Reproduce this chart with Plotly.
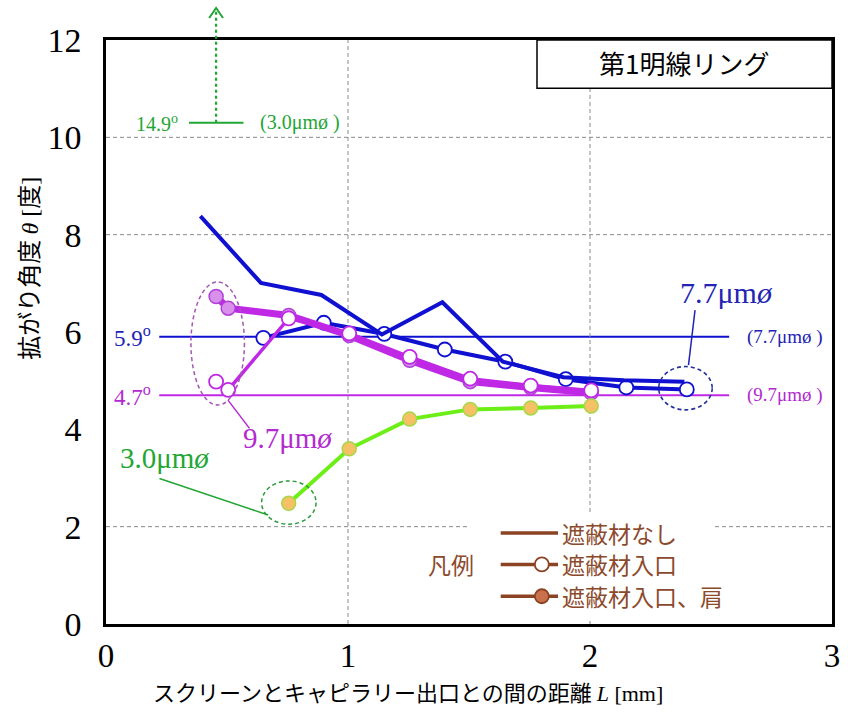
import plotly.graph_objects as go

# ---- measured spread angles (first bright ring) ----
# 7.7 um capillary
L_77_none = [0.39, 0.64, 0.89, 1.14, 1.39, 1.64, 1.89, 2.14, 2.39]
th_77_none = [8.38, 7.01, 6.76, 5.95, 6.61, 5.39, 5.07, 5.01, 4.98]
L_77_ent = [0.65, 0.90, 1.15, 1.40, 1.65, 1.90, 2.15, 2.40]
th_77_ent = [5.88, 6.19, 5.96, 5.64, 5.39, 5.03, 4.86, 4.82]
# 9.7 um capillary
L_97 = [0.455, 0.505, 0.755, 1.005, 1.255, 1.505, 1.755, 2.005]
th_97_ent = [4.98, 4.81, 6.28, 5.97, 5.49, 5.04, 4.90, 4.80]
th_97_sh = [6.73, 6.49, 6.34, 5.93, 5.42, 4.98, 4.86, 4.75]
# 3.0 um capillary
L_30 = [0.755, 1.005, 1.255, 1.505, 1.755, 2.005]
th_30_sh = [2.48, 3.60, 4.21, 4.41, 4.44, 4.48]

# reference (theoretical) angles
ref_labels = ["7.7μm", "9.7μm", "3.0μm"]
ref_theta = [5.9, 4.7, 14.9]

x_ticks = [0, 1, 2, 3]
y_ticks = [0, 2, 4, 6, 8, 10, 12]
grid_y = [2, 8, 10]
grid_x = [1, 2]

legend_labels = ["遮蔽材なし", "遮蔽材入口", "遮蔽材入口、肩"]

BLUE = "#1010d0"
BLUE_T = "#2323b4"
MAG = "#bf28e4"
MAG_T = "#b22ad0"
GREEN = "#6cee16"
GREEN_T = "#22a634"
BROWN = "#8b4324"
BROWN_T = "#8c4a2c"
SERIF = "Liberation Serif"
JP = "Noto Sans CJK JP"

fig = go.Figure()

# reference angle lines
for th, col in zip(ref_theta[:2], [BLUE, MAG]):
    fig.add_shape(type="line", x0=0.22, x1=2.575, y0=th, y1=th,
                  line=dict(color=col, width=2), layer="below")

fig.add_trace(go.Scatter(x=L_77_ent, y=th_77_ent, mode="lines+markers",
                         line=dict(color=BLUE, width=4),
                         marker=dict(size=14, color="white",
                                     line=dict(color=BLUE, width=1.8)),
                         showlegend=False))
fig.add_trace(go.Scatter(x=L_77_none, y=th_77_none, mode="lines",
                         line=dict(color=BLUE, width=4), showlegend=False))
fig.add_trace(go.Scatter(x=L_97, y=th_97_sh, mode="lines+markers",
                         line=dict(color=MAG, width=7),
                         marker=dict(size=14, color="#d890ea",
                                     line=dict(color="#b040d8", width=1.5)),
                         showlegend=False))
fig.add_trace(go.Scatter(x=L_97, y=th_97_ent, mode="lines+markers",
                         line=dict(color=MAG, width=3.5),
                         marker=dict(size=14, color="white",
                                     line=dict(color=MAG, width=1.8)),
                         showlegend=False))
fig.add_trace(go.Scatter(x=L_30, y=th_30_sh, mode="lines+markers",
                         line=dict(color=GREEN, width=4),
                         marker=dict(size=14, color="#f6c064",
                                     line=dict(color="#a6d84a", width=1.5)),
                         showlegend=False))

# grid (only selected lines)
GRID = dict(color="#8a8a8a", width=1, dash="4px,3px")
for gy in grid_y:
    fig.add_shape(type="line", x0=0, x1=3, y0=gy, y1=gy, line=GRID, layer="below")
for gx in grid_x:
    fig.add_shape(type="line", x0=gx, x1=gx, y0=0, y1=12, line=GRID, layer="below")

# title box and legend backing
fig.add_shape(type="rect", x0=1.781, x1=3.0, y0=11.01, y1=12,
              fillcolor="white", line=dict(color="black", width=1.5), layer="below")
fig.add_shape(type="rect", x0=1.50, x1=2.51, y0=0.06, y1=2.30,
              fillcolor="white", line=dict(width=0), layer="below")
fig.add_annotation(x=2.387, y=11.53, text="第1明線リング", showarrow=False,
                   xanchor="center", yanchor="middle",
                   font=dict(family=JP, size=26, color="black"))

# off-scale 3.0 um reference angle (arrow up)
x_off = L_97[0]
fig.add_shape(type="line", x0=0.343, x1=0.568, y0=10.3, y1=10.3,
              line=dict(color=GREEN_T, width=2))
tip_y = (624 - 8) / 584
fig.add_shape(type="line", xref="paper", yref="paper", x0=x_off / 3, x1=x_off / 3,
              y0=10.3 / 12, y1=tip_y, line=dict(color=GREEN_T, width=2.2, dash="3px,3px"))
dx = 7 / 734
dy = 10 / 584
fig.add_shape(type="path", xref="paper", yref="paper",
              path=f"M {x_off/3 - dx} {tip_y - dy} L {x_off/3} {tip_y} L {x_off/3 + dx} {tip_y - dy}",
              line=dict(color=GREEN_T, width=2))
fig.add_annotation(x=0.2125, y=10.3, text=f"{ref_theta[2]}<sup>o</sup>", showarrow=False,
                   font=dict(family=SERIF, size=20, color=GREEN_T))
fig.add_annotation(x=0.801, y=10.3, text=f"({ref_labels[2]}ø )", showarrow=False,
                   font=dict(family=SERIF, size=20, color=GREEN_T))

# reference line labels
for th, lab, col in zip(ref_theta[:2], ref_labels[:2], [BLUE_T, MAG_T]):
    fig.add_annotation(x=0.108, y=th, text=f"{th}<sup>o</sup>", showarrow=False,
                       font=dict(family=SERIF, size=23, color=col))
    fig.add_annotation(x=2.805, y=th, text=f"({lab}ø )", showarrow=False,
                       font=dict(family=SERIF, size=19, color=col))

# dashed call-out ellipses and leader lines
fig.add_shape(type="circle", x0=2.284, x1=2.505, y0=4.40, y1=5.29,
              line=dict(color="#23309e", width=1.6, dash="4px,3px"))
fig.add_shape(type="line", x0=2.434, x1=2.407, y0=6.45, y1=5.32,
              line=dict(color=BLUE_T, width=1.5))
fig.add_annotation(x=2.565, y=6.82, text=f"{ref_labels[0]}<i>ø</i>", showarrow=False,
                   font=dict(family=SERIF, size=30, color=BLUE_T))

fig.add_shape(type="circle", x0=0.351, x1=0.572, y0=4.50, y1=7.03,
              line=dict(color="#a456b4", width=1.5, dash="4px,3px"))
fig.add_shape(type="line", x0=0.504, x1=0.593, y0=4.60, y1=4.02,
              line=dict(color=MAG_T, width=1.5))
fig.add_annotation(x=0.748, y=3.82, text=f"{ref_labels[1]}<i>ø</i>", showarrow=False,
                   font=dict(family=SERIF, size=29, color=MAG_T))

fig.add_shape(type="circle", x0=0.643, x1=0.868, y0=2.05, y1=2.94,
              line=dict(color="#2e9a3c", width=1.5, dash="4px,3px"))
fig.add_shape(type="line", x0=0.221, x1=0.670, y0=2.99, y1=2.24,
              line=dict(color=GREEN_T, width=1.5))
fig.add_annotation(x=0.241, y=3.41, text=f"{ref_labels[2]}<i>ø</i>", showarrow=False,
                   font=dict(family=SERIF, size=29, color=GREEN_T))

# legend (drawn by hand)
fig.add_annotation(x=1.426, y=1.23, text="凡例", showarrow=False,
                   font=dict(family=JP, size=23, color=BROWN_T))
rows_y = [1.87, 1.225, 0.57]
marker_fill = [None, "white", "#c9714c"]
for ry, lab, mf in zip(rows_y, legend_labels, marker_fill):
    fig.add_shape(type="line", x0=1.631, x1=1.868, y0=ry, y1=ry,
                  line=dict(color=BROWN, width=3.5))
    if mf is not None:
        fig.add_shape(type="circle", xsizemode="pixel", ysizemode="pixel",
                      xanchor=1.801, yanchor=ry, x0=-7, x1=7, y0=-7, y1=7,
                      fillcolor=mf, line=dict(color=BROWN, width=1.8))
    fig.add_annotation(x=1.876, y=ry, text=lab, showarrow=False, xanchor="left",
                       font=dict(family=JP, size=23, color=BROWN_T))

# axis titles
fig.add_annotation(xref="paper", yref="paper", x=(411 - 106) / 734, y=(624 - 691) / 584,
                   xanchor="center", yanchor="middle",
                   text=f"スクリーンとキャピラリー出口との間の距離 <span style=\"font-family:'{SERIF}'\"><i>L</i> [mm]</span>",
                   showarrow=False, font=dict(family=JP, size=22, color="black"))
fig.add_annotation(xref="paper", yref="paper", x=(26 - 106) / 734, y=(624 - 268) / 584,
                   xanchor="center", yanchor="middle",
                   text=f"拡がり角度 <span style=\"font-family:'{SERIF}'\"><i>θ</i> [</span>度<span style=\"font-family:'{SERIF}'\">]</span>",
                   textangle=-90, showarrow=False, font=dict(family=JP, size=24, color="black"))

fig.update_layout(
    width=848, height=714, autosize=False,
    margin=dict(l=106, r=8, t=40, b=90),
    paper_bgcolor="white", plot_bgcolor="white",
    showlegend=False,
    xaxis=dict(range=[0, 3], tickvals=x_ticks, showgrid=False, zeroline=False,
               showline=True, mirror=True, linecolor="black", linewidth=2.5,
               ticks="", ticklabelstandoff=1,
               tickfont=dict(family=SERIF, size=33, color="black")),
    yaxis=dict(range=[0, 12], tickvals=y_ticks, showgrid=False, zeroline=False,
               showline=True, mirror=True, linecolor="black", linewidth=2.5,
               ticks="", ticklabelstandoff=15,
               tickfont=dict(family=SERIF, size=34, color="black")),
)

fig.write_html("out.html")
